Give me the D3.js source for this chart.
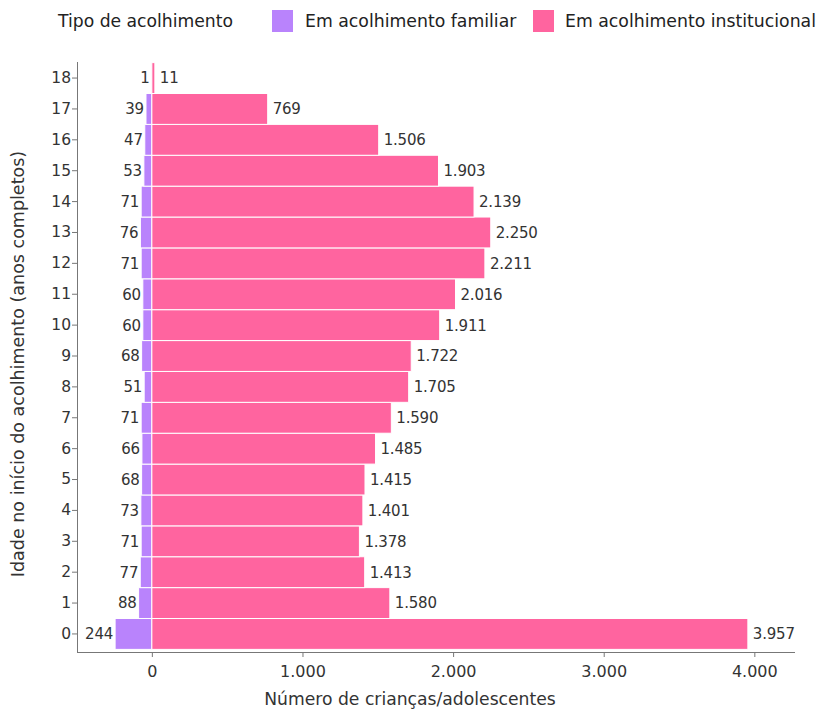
<!DOCTYPE html>
<html><head><meta charset="utf-8">
<script src="https://cdn.jsdelivr.net/npm/d3@7"></script>
<style>body{margin:0;background:#fff}svg{display:block}text{font-family:"DejaVu Sans",sans-serif}</style>
</head><body><svg id="c" width="819" height="709"></svg>
<script>
const ages = ["0","1","2","3","4","5","6","7","8","9","10","11","12","13","14","15","16","17","18"];
const familiar = [244,88,77,71,73,68,66,71,51,68,60,60,71,76,71,53,47,39,1];
const institucional = [3957,1580,1413,1378,1401,1415,1485,1590,1705,1722,1911,2016,2211,2250,2139,1903,1506,769,11];
const xTicks = [0,1000,2000,3000,4000];
const seriesNames = ["Em acolhimento familiar","Em acolhimento institucional"];
const colors = ["#b983fc","#ff649f"];

const svg = d3.select("#c");
const mLeft = 77, mRight = 795, mTop = 62, mBottom = 650;
const x = d3.scaleLinear().domain([-497, 4270]).range([mLeft, mRight]);
const y = d3.scaleBand().domain(ages.slice().reverse()).range([mTop, mBottom]).paddingInner(0.0).paddingOuter(0.02);
const fmt = d3.formatLocale({decimal:",",thousands:".",grouping:[3],currency:["",""]}).format(",d");
const data = ages.map((a,i)=>({a, f:familiar[i], n:institucional[i]}));
const font = "DejaVu Sans";

// bars
svg.append("g").selectAll("rect").data(data).join("rect")
  .attr("x", d=>x(-d.f)).attr("width", d=>x(0)-x(-d.f))
  .attr("y", d=>y(d.a)).attr("height", y.bandwidth())
  .attr("fill", colors[0]).attr("stroke","#fff").attr("stroke-width",1);
svg.append("g").selectAll("rect").data(data).join("rect")
  .attr("x", x(0)).attr("width", d=>Math.max(x(d.n)-x(0),3))
  .attr("y", d=>y(d.a)).attr("height", y.bandwidth())
  .attr("fill", colors[1]).attr("stroke","#fff").attr("stroke-width",1);

// labels
svg.append("g").selectAll("text").data(data).join("text")
  .attr("x", d=>x(-d.f)-2).attr("y", d=>y(d.a)+y.bandwidth()/2)
  .attr("dy","0.36em").attr("text-anchor","end")
  .attr("font-size",15).attr("fill","#333").style("letter-spacing","-0.2px")
  .text(d=>fmt(d.f));
svg.append("g").selectAll("text").data(data).join("text")
  .attr("x", d=>Math.max(x(d.n),x(0)+3)+5).attr("y", d=>y(d.a)+y.bandwidth()/2)
  .attr("dy","0.36em").attr("text-anchor","start")
  .attr("font-size",15).attr("fill","#333").style("letter-spacing","-0.2px")
  .text(d=>fmt(d.n));

// axes
const gx = svg.append("g").attr("transform",`translate(0,${mBottom+2})`)
  .call(d3.axisBottom(x).tickValues(xTicks).tickFormat(fmt).tickSizeOuter(0).tickSize(5));
const gy = svg.append("g").attr("transform",`translate(${mLeft},0)`)
  .call(d3.axisLeft(y).tickSizeOuter(0).tickSize(5));
[gx,gy].forEach(g=>{
  g.selectAll("path,line").attr("stroke","#777");
  g.selectAll("text").attr("font-family",font).attr("font-size",16).attr("fill","#333");
});
gx.select("path.domain").attr("d",`M${mLeft},0.5H${mRight}`);
gy.select("path.domain").attr("d",`M0.5,${mTop}V${mBottom+2}`);
gx.selectAll("text").attr("dy","1.05em");
gy.selectAll("text").attr("x",-6).attr("font-size",15.5);

// axis titles
svg.append("text").attr("x",410).attr("y",705).attr("text-anchor","middle")
  .attr("font-size",17.2).attr("fill","#333").text("Número de crianças/adolescentes");
svg.append("text").attr("transform",`translate(24,364) rotate(-90)`).attr("text-anchor","middle")
  .attr("font-size",17.5).attr("fill","#333").text("Idade no início do acolhimento (anos completos)");

// legend
const lg = svg.append("g");
lg.append("text").attr("x",58).attr("y",27).attr("font-family","Open Sans").attr("font-size",17.2).attr("fill","#222").text("Tipo de acolhimento");
const lx = [272,533];
const tx = [305,565];
seriesNames.forEach((s,i)=>{
  lg.append("rect").attr("x",lx[i]).attr("y",10).attr("width",21).attr("height",22).attr("fill",colors[i]);
  lg.append("text").attr("x",tx[i]).attr("y",27).attr("font-family","Open Sans").attr("font-size",17.3).attr("fill","#222").text(s);
});
</script></body></html>
